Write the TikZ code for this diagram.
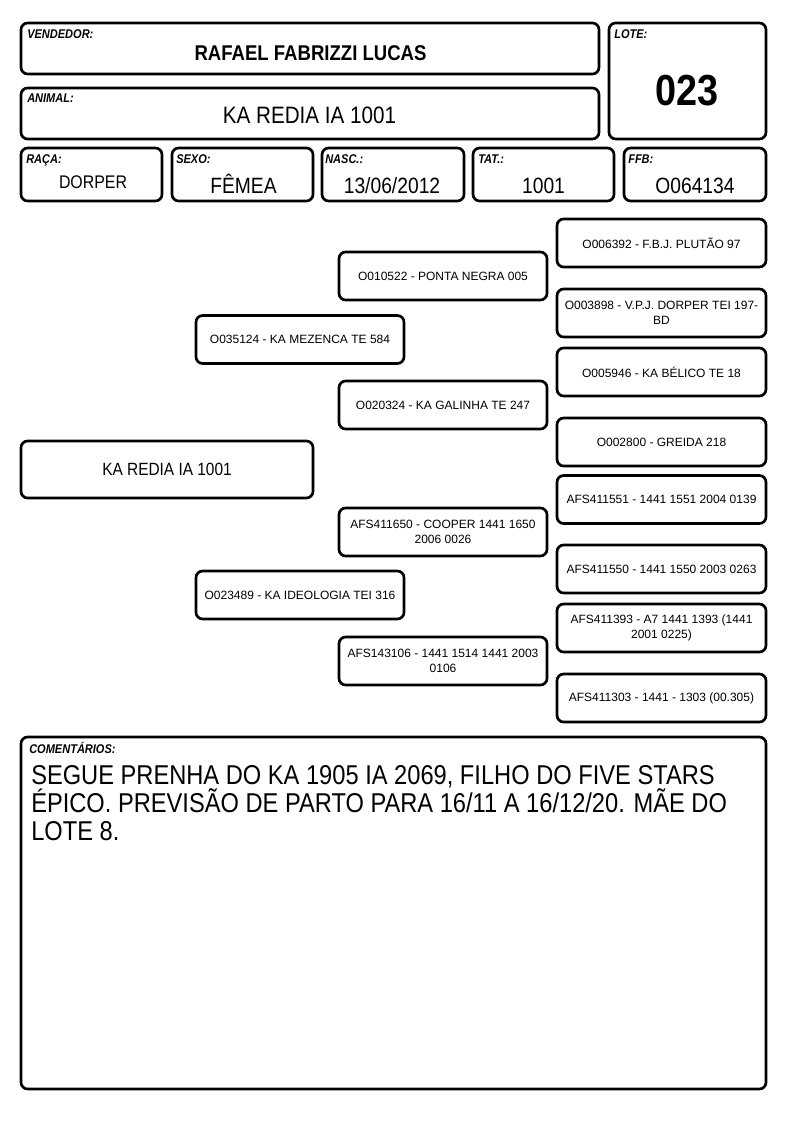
\documentclass[tikz,border=0pt]{standalone}
\usepackage{fontspec}
\setmainfont{Liberation Sans}
\newfontfamily\narrowfont[FakeStretch=0.87]{Liberation Sans}
\tikzset{
  box/.style={draw, line width=2pt, rounded corners=5pt, inner sep=0pt},
  sz/.style 2 args={minimum width=#1*0.75pt, minimum height=#2*0.75pt},
  lbl/.style={anchor=base west, inner sep=0pt, font=\narrowfont\bfseries\itshape\fontsize{9.5}{10}\selectfont},
  val/.style={anchor=base, inner sep=0pt, font=\narrowfont\fontsize{16.6}{18}\selectfont},
  ped/.style={box, sz={208}{48}, align=center, font=\fontsize{9}{11}\selectfont},
}
\begin{document}
\begin{tikzpicture}[x=0.75pt, y=-0.75pt]
\useasboundingbox (0,0) rectangle (794,1123);
% Header
\node[box, sz={578}{51}] (vend) at (310,48.5) {};
\node[lbl] (vendlbl) at (27,39) {VENDEDOR:};
\node[val, font=\narrowfont\bfseries\fontsize{16}{18}\selectfont] (vendval) at (310.5,61) {RAFAEL FABRIZZI LUCAS};
\node[box, sz={578}{51}] (anim) at (310,113.5) {};
\node[lbl] (animlbl) at (27,103) {ANIMAL:};
\node[val, font=\narrowfont\fontsize{17.8}{19}\selectfont] (animval) at (309.5,124) {KA REDIA IA 1001};
\node[box, sz={157}{116}] (lote) at (687.5,81) {};
\node[lbl] (lotelbl) at (614,39) {LOTE:};
\node[val, font=\narrowfont\bfseries\fontsize{32.6}{34}\selectfont] (loteval) at (687,106) {023};
% Data row
\node[box, sz={141}{53}] (raca) at (91.5,174.5) {};
\node[lbl] (racalbl) at (26,164) {RAÇA:};
\node[val, font=\narrowfont\fontsize{13.7}{15}\selectfont] (racaval) at (93,189) {DORPER};
\node[box, sz={141}{53}] (sexo) at (242.5,174.5) {};
\node[lbl] (sexolbl) at (176,164) {SEXO:};
\node[val] (sexoval) at (243.5,194) {FÊMEA};
\node[box, sz={142}{53}] (nasc) at (393,174.5) {};
\node[lbl] (nasclbl) at (325,164) {NASC.:};
\node[val] (nascval) at (392,194) {13/06/2012};
\node[box, sz={141}{53}] (tat) at (543.5,174.5) {};
\node[lbl] (tatlbl) at (478,164) {TAT.:};
\node[val] (tatval) at (543.5,194) {1001};
\node[box, sz={142}{53}] (ffb) at (695,174.5) {};
\node[lbl] (ffblbl) at (628,164) {FFB:};
\node[val] (ffbval) at (695,194) {O064134};
% Pedigree
\node[box, sz={292}{57}, font=\narrowfont\fontsize{13.3}{15}\selectfont] (reg) at (167,469.5) {KA REDIA IA 1001};
\node[ped] (pai) at (300,339.5) {O035124 - KA MEZENCA TE 584};
\node[ped] (mae) at (300,595) {O023489 - KA IDEOLOGIA TEI 316};
\node[ped] (pp) at (443,276) {O010522 - PONTA NEGRA 005};
\node[ped] (mp) at (443,405) {O020324 - KA GALINHA TE 247};
\node[ped] (pm) at (443,532) {AFS411650 - COOPER 1441 1650\\2006 0026};
\node[ped] (mm) at (443,661) {AFS143106 - 1441 1514 1441 2003\\0106};
\node[ped, sz={209}{48}] (ppp) at (661.5,243) {O006392 - F.B.J. PLUTÃO 97};
\node[ped, sz={209}{48}] (mpp) at (661.5,313) {O003898 - V.P.J. DORPER TEI 197-\\BD};
\node[ped, sz={209}{48}] (pmp) at (661.5,372) {O005946 - KA BÉLICO TE 18};
\node[ped, sz={209}{48}] (mmp) at (661.5,442) {O002800 - GREIDA 218};
\node[ped, sz={209}{48}] (ppm) at (661.5,499.5) {AFS411551 - 1441 1551 2004 0139};
\node[ped, sz={209}{48}] (mpm) at (661.5,569) {AFS411550 - 1441 1550 2003 0263};
\node[ped, sz={209}{48}] (pmm) at (661.5,628) {AFS411393 - A7 1441 1393 (1441\\2001 0225)};
\node[ped, sz={209}{48}] (mmm) at (661.5,698) {AFS411303 - 1441 - 1303 (00.305)};
% Comments
\node[box, sz={745}{352}] (coment) at (393.5,913) {};
\node[lbl] (comentlbl) at (29,753) {COMENTÁRIOS:};
\node[anchor=north west, inner sep=0pt, align=left, font=\narrowfont\fontsize{20.4}{20.8}\selectfont] (comentval) at (31,765.5)
  {SEGUE PRENHA DO KA 1905 IA 2069, FILHO DO FIVE STARS\\ÉPICO. PREVISÃO DE PARTO PARA 16/11 A 16/12/20. MÃE DO\\LOTE 8.};
\end{tikzpicture}
\end{document}
